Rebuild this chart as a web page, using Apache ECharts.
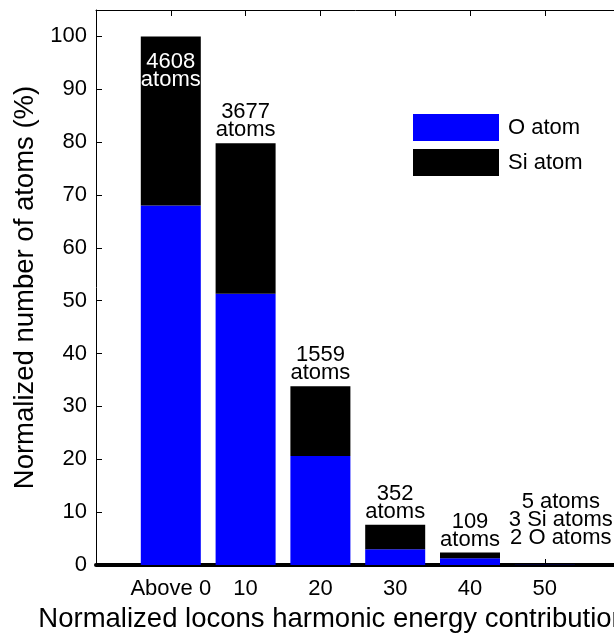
<!DOCTYPE html>
<html><head><meta charset="utf-8">
<script src="https://cdn.jsdelivr.net/npm/echarts@6/dist/echarts.min.js"></script>
<style>html,body{margin:0;padding:0;background:#fff}#c{width:614px;height:634px}</style>
</head><body><div id="c"></div>
<script>
// ---- data ----
const categories = ['Above 0', '10', '20', '30', '40', '50'];
const oAtom  = [68.0, 51.3, 20.6, 3.0, 1.3, 0.04];
const siAtom = [32.0, 28.5, 13.2, 4.6, 1.07, 0.07];
const atomCounts = [4608, 3677, 1559, 352, 109, 5];
const lastSiCount = 3;
const lastOCount = 2;
const yTickLabels = ['0','10','20','30','40','50','60','70','80','90','100'];

const FONT = '"Liberation Sans", Arial, Helvetica, sans-serif';
const chart = echarts.init(document.getElementById('c'), null, {renderer: 'canvas'});

// the axis runs from one empty slot before the first bar to one empty slot after the last
const axisCats = [''].concat(categories, ['']);
const pad = v => ['-'].concat(v, ['-']);

const oData = pad(oAtom);
const siData = pad(siAtom.map((v, i) => {
  const item = {value: v};
  if (i === 0) {
    item.label = {position: 'insideTop', distance: 17, color: '#fff'};
  } else if (i === categories.length - 1) {
    item.label = {offset: [16, -13]};
  }
  return item;
}));

const option = {
  animation: false,
  backgroundColor: '#fff',
  textStyle: {fontFamily: FONT},
  grid: {left: 96, top: 10, width: 523.6, height: 555, containLabel: false, outerBoundsMode: 'none'},
  legend: {
    orient: 'vertical', left: 413, top: 114, padding: 0,
    itemWidth: 86, itemHeight: 27, itemGap: 8,
    icon: 'rect',
    textStyle: {fontFamily: FONT, fontSize: 22, color: '#000', padding: [0, 0, 0, 4]},
    data: ['O atom', 'Si atom']
  },
  xAxis: [{
    type: 'category', data: axisCats, boundaryGap: false, position: 'bottom',
    axisLine: {show: true, onZero: false, lineStyle: {color: '#000', width: 4}},
    axisTick: {show: true, inside: true, length: 6, alignWithLabel: true, lineStyle: {color: '#000', width: 1}},
    axisLabel: {show: true, interval: 0, margin: 13, fontSize: 22, color: '#000', fontFamily: FONT},
    splitLine: {show: false},
    name: 'Normalized locons harmonic energy contribution (%)',
    nameLocation: 'middle', nameGap: 40,
    nameTextStyle: {fontSize: 27.5, color: '#000', fontFamily: FONT}
  }, {
    type: 'category', data: axisCats, boundaryGap: false, position: 'top',
    axisLine: {show: true, onZero: false, lineStyle: {color: '#000', width: 1}},
    axisTick: {show: true, inside: true, length: 6, lineStyle: {color: '#000', width: 1}},
    axisLabel: {show: false},
    splitLine: {show: false}
  }],
  yAxis: [{
    type: 'value', min: 0, max: 105, interval: 10,
    axisLine: {show: true, onZero: false, lineStyle: {color: '#000', width: 1}},
    axisTick: {show: true, inside: true, length: 6, lineStyle: {color: '#000', width: 1}},
    axisLabel: {show: true, margin: 9, fontSize: 22, color: '#000', fontFamily: FONT,
      showMaxLabel: false,
      formatter: v => { const i = Math.round(v / 10); return (v % 10 === 0 && i < yTickLabels.length) ? yTickLabels[i] : ''; }},
    splitLine: {show: false},
    name: 'Normalized number of atoms (%)',
    nameLocation: 'middle', nameGap: 52,
    nameTextStyle: {fontSize: 27.5, color: '#000', fontFamily: FONT}
  }],
  series: [{
    name: 'O atom', type: 'bar', stack: 'all', barWidth: 60,
    xAxisIndex: 0, yAxisIndex: 0,
    itemStyle: {color: '#0000ff'},
    data: oData,
    z: 2
  }, {
    name: 'Si atom', type: 'bar', stack: 'all', barWidth: 60,
    xAxisIndex: 0, yAxisIndex: 0,
    itemStyle: {color: '#000000'},
    label: {
      show: true, position: 'top', distance: 4,
      fontSize: 22, lineHeight: 18, color: '#000', fontFamily: FONT, align: 'center',
      formatter: p => {
        const i = p.dataIndex - 1;
        if (i === categories.length - 1) {
          return atomCounts[i] + ' atoms\n' + lastSiCount + ' Si atoms\n' + lastOCount + ' O atoms';
        }
        return atomCounts[i] + '\natoms';
      }
    },
    data: siData,
    z: 2
  }]
};
chart.setOption(option);
</script>
</body></html>
